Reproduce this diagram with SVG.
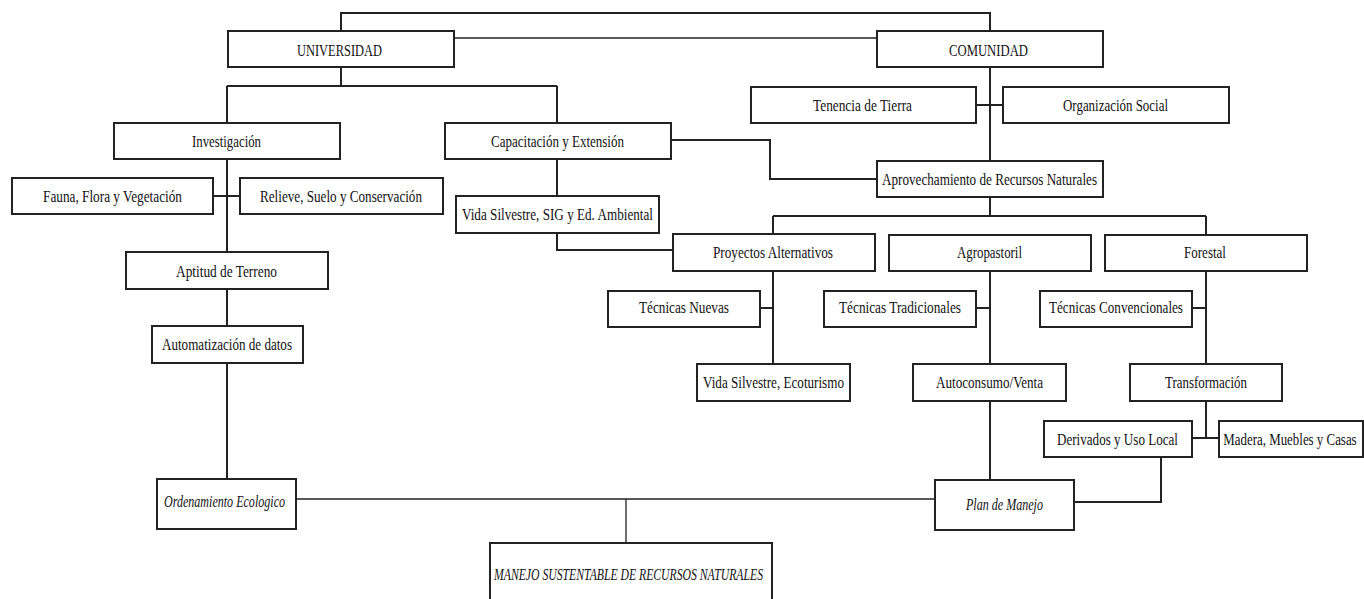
<svg xmlns="http://www.w3.org/2000/svg" width="1364" height="599" viewBox="0 0 1364 599">
<style>
.box{fill:#fff;stroke:#222;stroke-width:2}
.c{fill:none;stroke:#222;stroke-width:2}
.t{fill:none;stroke:#222;stroke-width:1.3}
text{font-family:"Liberation Serif","Times New Roman",serif;font-size:17px;fill:#111;text-anchor:middle}
.i{font-style:italic;font-size:16px}
</style>
<rect width="1364" height="599" fill="#fff"/>
<g id="connectors">
<path class="c" d="M341 31V13H990V31"/>
<path class="t" d="M454 38H877"/>
<path class="c" d="M341 67V86M227 86H557M227 86V123M557 86V123"/>
<path class="c" d="M227 159V252M213 196H240"/>
<path class="c" d="M227 289V326M227 363V479"/>
<path class="c" d="M671 140H770V179H877"/>
<path class="c" d="M557 159V196M557 233V250H673"/>
<path class="c" d="M990 67V161M976 105H1003"/>
<path class="c" d="M990 197V216M773 216H1206M773 216V234M1206 216V235"/>
<path class="c" d="M773 271V364M760 308H773"/>
<path class="c" d="M990 271V364M976 308H990"/>
<path class="c" d="M1206 271V364M1192 308H1206"/>
<path class="c" d="M1206 401V438M1192 438H1219"/>
<path class="c" d="M990 401V480"/>
<path class="c" d="M1161 457V502H1074"/>
<path class="t" d="M296 499H935M626 499V543"/>
</g>
<g id="universidad"><rect class="box" x="228" y="31" width="226" height="36"/><text x="339.5" y="56" textLength="85" lengthAdjust="spacingAndGlyphs">UNIVERSIDAD</text></g>
<g id="comunidad"><rect class="box" x="877" y="31" width="226" height="36"/><text x="988.5" y="56" textLength="79" lengthAdjust="spacingAndGlyphs">COMUNIDAD</text></g>
<g id="investigacion"><rect class="box" x="114" y="123" width="226" height="36"/><text x="226.5" y="147" textLength="69" lengthAdjust="spacingAndGlyphs">Investigación</text></g>
<g id="capacitacion"><rect class="box" x="445" y="123" width="226" height="36"/><text x="557.5" y="147" textLength="133" lengthAdjust="spacingAndGlyphs">Capacitación y Extensión</text></g>
<g id="tenencia"><rect class="box" x="751" y="87" width="225" height="36"/><text x="862.5" y="111" textLength="99" lengthAdjust="spacingAndGlyphs">Tenencia de Tierra</text></g>
<g id="organizacion"><rect class="box" x="1003" y="87" width="226" height="36"/><text x="1115.5" y="111" textLength="105" lengthAdjust="spacingAndGlyphs">Organización Social</text></g>
<g id="aprovechamiento"><rect class="box" x="877" y="161" width="226" height="36"/><text x="989.5" y="185" textLength="215" lengthAdjust="spacingAndGlyphs">Aprovechamiento de Recursos Naturales</text></g>
<g id="fauna"><rect class="box" x="12" y="178" width="201" height="36"/><text x="112.5" y="202" textLength="139" lengthAdjust="spacingAndGlyphs">Fauna, Flora y Vegetación</text></g>
<g id="relieve"><rect class="box" x="240" y="178" width="203" height="36"/><text x="341" y="202" textLength="162" lengthAdjust="spacingAndGlyphs">Relieve, Suelo y Conservación</text></g>
<g id="vidasig"><rect class="box" x="456" y="196" width="203" height="37"/><text x="557.5" y="220" textLength="191" lengthAdjust="spacingAndGlyphs">Vida Silvestre, SIG y Ed. Ambiental</text></g>
<g id="aptitud"><rect class="box" x="126" y="252" width="202" height="37"/><text x="226.5" y="277" textLength="101" lengthAdjust="spacingAndGlyphs">Aptitud de Terreno</text></g>
<g id="proyectos"><rect class="box" x="673" y="234" width="202" height="37"/><text x="773" y="258" textLength="120" lengthAdjust="spacingAndGlyphs">Proyectos Alternativos</text></g>
<g id="agropastoril"><rect class="box" x="889" y="235" width="202" height="36"/><text x="989.5" y="258" textLength="65" lengthAdjust="spacingAndGlyphs">Agropastoril</text></g>
<g id="forestal"><rect class="box" x="1105" y="235" width="202" height="36"/><text x="1205" y="258" textLength="42" lengthAdjust="spacingAndGlyphs">Forestal</text></g>
<g id="tecnuevas"><rect class="box" x="608" y="291" width="152" height="36"/><text x="684" y="313" textLength="90" lengthAdjust="spacingAndGlyphs">Técnicas Nuevas</text></g>
<g id="tectradicionales"><rect class="box" x="824" y="291" width="152" height="36"/><text x="900" y="313" textLength="122" lengthAdjust="spacingAndGlyphs">Técnicas Tradicionales</text></g>
<g id="tecconvencionales"><rect class="box" x="1040" y="291" width="152" height="36"/><text x="1116" y="313" textLength="134" lengthAdjust="spacingAndGlyphs">Técnicas Convencionales</text></g>
<g id="automatizacion"><rect class="box" x="152" y="326" width="151" height="37"/><text x="227" y="350" textLength="130" lengthAdjust="spacingAndGlyphs">Automatización de datos</text></g>
<g id="vidaeco"><rect class="box" x="697" y="364" width="153" height="37"/><text x="773.5" y="388" textLength="141" lengthAdjust="spacingAndGlyphs">Vida Silvestre, Ecoturismo</text></g>
<g id="autoconsumo"><rect class="box" x="913" y="364" width="153" height="37"/><text x="989.5" y="388" textLength="107" lengthAdjust="spacingAndGlyphs">Autoconsumo/Venta</text></g>
<g id="transformacion"><rect class="box" x="1130" y="364" width="152" height="37"/><text x="1206" y="388" textLength="82" lengthAdjust="spacingAndGlyphs">Transformación</text></g>
<g id="derivados"><rect class="box" x="1044" y="421" width="148" height="36"/><text x="1117.5" y="445" textLength="121" lengthAdjust="spacingAndGlyphs">Derivados y Uso Local</text></g>
<g id="madera"><rect class="box" x="1219" y="421" width="144" height="36"/><text transform="translate(1290 445) scale(0.76 1)" x="0" y="0">Madera, Muebles y Casas</text></g>
<g id="ordenamiento"><rect class="box" x="157" y="479" width="139" height="50"/><text class="i" x="224.5" y="507" textLength="121" lengthAdjust="spacingAndGlyphs">Ordenamiento Ecologico</text></g>
<g id="plan"><rect class="box" x="935" y="480" width="139" height="50"/><text class="i" x="1004.5" y="510" textLength="77" lengthAdjust="spacingAndGlyphs">Plan de Manejo</text></g>
<g id="manejo"><rect class="box" x="490" y="543" width="282" height="70"/><text class="i" x="628.5" y="580" textLength="269" lengthAdjust="spacingAndGlyphs">MANEJO SUSTENTABLE DE RECURSOS NATURALES</text></g>
</svg>
